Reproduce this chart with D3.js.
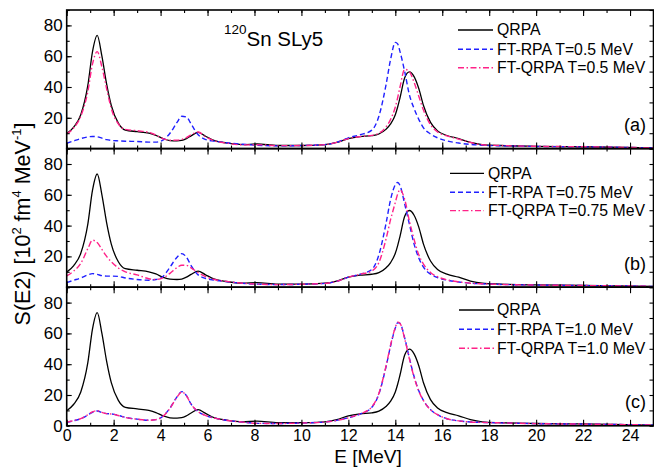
<!DOCTYPE html>
<html>
<head>
<meta charset="utf-8">
<script src="https://cdn.jsdelivr.net/npm/d3@7"></script>
<style>
  html, body { margin: 0; padding: 0; background: #fff; }
  svg { display: block; font-family: "Liberation Sans", Arial, sans-serif; }
</style>
</head>
<body>
<svg id="chart" width="654" height="468"></svg>
<script>
// Excitation energy grid (MeV), shared by every strength function
const energy = [0, 0.3, 0.6, 0.9, 1.1, 1.3, 1.5, 1.7, 1.9, 2.2, 2.5, 3.0, 3.5, 3.8, 4.1, 4.4, 4.7, 4.9, 5.1, 5.3,
  5.6, 5.9, 6.3, 6.8, 7.5, 8.1, 9.0, 10.0, 11.0, 11.5, 12.0, 12.5, 13.0, 13.3, 13.6, 13.8, 14.0, 14.1, 14.2, 14.4,
  14.6, 14.8, 15.0, 15.2, 15.5, 15.8, 16.2, 16.7, 17.2, 17.7, 18.5, 20, 22, 25];

// S(E2) in 10^2 fm^4 MeV^-1
const sQRPA = [9.8, 14, 22, 41, 63, 73.5, 60, 42, 28, 16.5, 12, 11, 10, 8.6, 6.5, 5.2, 5.0, 5.3, 6.5, 8.3,
  10.5, 8.2, 5.2, 3.7, 2.6, 3.0, 2.0, 2.0, 2.6, 4.0, 6.5, 7.8, 8.4, 9.5, 12.5, 16, 22, 27, 33, 46,
  49.8, 46.7, 39, 28, 17, 11.5, 8.5, 6.5, 4.0, 2.6, 2.0, 1.5, 1.2, 0.5];

const sFtRpa05 = [3.5, 5, 6.5, 7.6, 7.9, 7.7, 6.8, 5.8, 5.3, 5.0, 4.8, 4.6, 4.2, 4.2, 5.5, 10, 17, 21, 20.5, 16,
  9, 6, 4.8, 3.8, 2.8, 2.2, 1.8, 2.0, 2.6, 4.0, 7.0, 9.0, 12, 21, 41, 58, 69, 68, 63, 50,
  35, 26, 19, 13.5, 9.5, 7, 5, 3.6, 2.7, 2.2, 1.8, 1.4, 1.1, 0.5];
const sFtQrpa05 = [9.5, 13.5, 21, 37, 55, 63, 53, 39, 26, 16, 12.5, 11.6, 10.6, 8.8, 6.5, 5.4, 5.5, 6, 7.2, 9,
  10.8, 7.8, 5, 3.6, 2.4, 2.5, 1.9, 2.0, 2.6, 4.0, 6.5, 7.8, 8.6, 10, 14, 19, 27, 33, 40, 51.5,
  50, 43, 34, 25, 15.5, 10.8, 8.3, 6.2, 4.0, 2.5, 2.0, 1.5, 1.2, 0.5];

const sFtRpa075 = [3.0, 4.5, 6, 8, 8.8, 8.3, 7.5, 7.2, 7.2, 7.0, 6.0, 5.0, 4.5, 5.0, 7, 13, 19.5, 21.8, 19.5, 14,
  8, 5.8, 4.6, 3.6, 2.5, 2.0, 1.7, 1.9, 2.5, 3.8, 6.5, 8.4, 11.5, 21, 41, 57, 66.5, 68, 66, 54,
  41, 28, 19, 13, 8.5, 6.2, 4.6, 3.4, 2.6, 2.2, 1.8, 1.4, 1.1, 0.5];
const sFtQrpa075 = [7.3, 10.5, 15.5, 25, 30.5, 29, 24.5, 20, 16.5, 12.5, 10, 8, 5.5, 5.0, 6.0, 9, 12.8, 14.3, 14.2, 12.5,
  9.5, 7, 5, 3.8, 2.6, 2.0, 1.7, 1.9, 2.5, 3.8, 6.5, 8.4, 10.5, 16, 31, 44, 55, 60.5, 63.3, 57,
  43, 31, 21, 15, 9.5, 6.8, 4.8, 3.5, 2.6, 2.2, 1.8, 1.4, 1.1, 0.5];

const sFtRpa10 = [2.2, 3.3, 4.6, 7, 8.8, 9.6, 8.6, 7.9, 7.7, 6.8, 5.5, 4.3, 3.6, 4.0, 6.2, 11.5, 18.8, 22.2, 19.6, 14,
  9.2, 6.8, 5.0, 3.6, 2.4, 1.6, 1.5, 1.8, 2.5, 3.5, 5.2, 7.6, 12, 20.6, 38, 52, 63.5, 67, 66.5, 57,
  44, 32, 22.8, 16.5, 10.5, 7.2, 4.6, 3.2, 2.5, 2.2, 1.9, 1.4, 1.1, 0.5];
const sFtQrpa10 = [2.3, 3.4, 4.7, 7.2, 9.0, 9.8, 8.7, 7.9, 7.7, 6.7, 5.4, 4.3, 3.6, 4.0, 6.1, 11.3, 18.6, 22.0, 19.5, 14,
  9.2, 6.8, 5.0, 3.6, 2.4, 1.6, 1.5, 1.8, 2.5, 3.5, 5.2, 7.7, 12.3, 21, 38.5, 52.5, 63.8, 67.3, 66.5, 56.5,
  43.5, 31.5, 22.5, 16.3, 10.4, 7.2, 4.6, 3.2, 2.5, 2.2, 1.9, 1.4, 1.1, 0.5];

// Panel descriptors
const temperatures = ["0.5", "0.75", "1.0"];
const panelTags = ["(a)", "(b)", "(c)"];
const ftRpaByPanel = [sFtRpa05, sFtRpa075, sFtRpa10];
const ftQrpaByPanel = [sFtQrpa05, sFtQrpa075, sFtQrpa10];

// Tick values
const xMajorTicks = d3.range(0, 25, 2);
const xMinorTicks = d3.range(0, 26, 1);
const yMajorTicks = [20, 40, 60, 80];
const yMinorTicks = d3.range(0, 91, 10);

// ---- layout ----
const svg = d3.select("#chart");
const left = 66.7, right = 653.5;
const panelTop0 = 10, panelH = 138.6;
const colors = { qrpa: "#000000", rpa: "#2020ff", fqrpa: "#ff2288" };
const legendLayouts = [
  { x0: 458, x1: 493, tx: 497, rows: [20, 39.3, 57.7] },
  { x0: 450, x1: 484, tx: 488, rows: [24.7, 43.6, 62.0] },
  { x0: 459, x1: 494, tx: 497, rows: [22.8, 42.0, 61.0] }
];

const x = d3.scaleLinear().domain([0, 25]).range([left, right]);

function styleSeries(sel, kind) {
  if (kind === "qrpa") sel.attr("stroke", colors.qrpa).attr("stroke-width", 1.3);
  if (kind === "rpa") sel.attr("stroke", colors.rpa).attr("stroke-width", 1.4).attr("stroke-dasharray", "5,3");
  if (kind === "fqrpa") sel.attr("stroke", colors.fqrpa).attr("stroke-width", 1.4).attr("stroke-dasharray", "6,2.5,1.5,2.5");
}

temperatures.forEach((T, i) => {
  const top = panelTop0 + i * panelH;
  const bottom = top + panelH;
  const y = d3.scaleLinear().domain([0, 90]).range([bottom, top]);
  const g = svg.append("g");

  const clipId = "clip" + i;
  svg.append("clipPath").attr("id", clipId)
    .append("rect").attr("x", left).attr("y", top).attr("width", right - left).attr("height", panelH);

  const line = d3.line()
    .x((d, k) => x(energy[k]))
    .y(d => y(d))
    .curve(d3.curveMonotoneX);

  const curves = g.append("g").attr("clip-path", `url(#${clipId})`).attr("fill", "none");
  const series = [
    { kind: "qrpa", values: sQRPA },
    { kind: "rpa", values: ftRpaByPanel[i] },
    { kind: "fqrpa", values: ftQrpaByPanel[i] }
  ];
  series.forEach(s => {
    curves.append("path").attr("d", line(s.values)).call(styleSeries, s.kind)
      .attr("stroke-linejoin", "round");
  });

  // inward ticks on all four sides
  const tickG = g.append("g").attr("class", "ticks");
  const addAxis = (axis, tx, ty) => {
    const a = tickG.append("g").attr("transform", `translate(${tx},${ty})`).call(axis);
    a.select(".domain").remove();
    a.selectAll("line").attr("stroke", "#000").attr("stroke-width", 1.1);
  };
  addAxis(d3.axisTop(x).tickValues(xMinorTicks).tickSize(3).tickFormat(""), 0, bottom);
  addAxis(d3.axisTop(x).tickValues(xMajorTicks).tickSize(6).tickFormat(""), 0, bottom);
  addAxis(d3.axisBottom(x).tickValues(xMinorTicks).tickSize(3).tickFormat(""), 0, top);
  addAxis(d3.axisBottom(x).tickValues(xMajorTicks).tickSize(6).tickFormat(""), 0, top);
  addAxis(d3.axisRight(y).tickValues(yMinorTicks).tickSize(3).tickFormat(""), left, 0);
  addAxis(d3.axisRight(y).tickValues(yMajorTicks).tickSize(5).tickFormat(""), left, 0);
  addAxis(d3.axisLeft(y).tickValues(yMinorTicks).tickSize(4).tickFormat(""), right, 0);

  // y tick labels
  const yLab = g.append("g").attr("transform", `translate(${left},0)`)
    .call(d3.axisLeft(y).tickValues(i === 2 ? [0].concat(yMajorTicks) : yMajorTicks).tickSize(0).tickPadding(4));
  yLab.select(".domain").remove();
  yLab.selectAll("text").attr("font-size", 17).attr("font-family", "Liberation Sans, Arial, sans-serif").attr("fill", "#000");

  // frame
  g.append("rect").attr("x", left).attr("y", top).attr("width", right - left).attr("height", panelH)
    .attr("fill", "none").attr("stroke", "#000").attr("stroke-width", 1.6);

  // legend
  const L = legendLayouts[i];
  const labels = ["QRPA", `FT-RPA T=${T} MeV`, `FT-QRPA T=${T} MeV`];
  series.forEach((s, k) => {
    const ry = top + L.rows[k];
    g.append("line").attr("x1", L.x0).attr("x2", L.x1).attr("y1", ry).attr("y2", ry)
      .call(styleSeries, s.kind);
    g.append("text").attr("x", L.tx).attr("y", ry + 5.3).attr("font-size", 15.8).attr("fill", "#000")
      .text(labels[k]);
  });

  // panel tag
  g.append("text").attr("x", 646).attr("y", top + 121).attr("text-anchor", "end")
    .attr("font-size", 18).attr("fill", "#000").text(panelTags[i]);

  // x tick labels under the last panel
  if (i === 2) {
    const xLab = g.append("g").attr("transform", `translate(0,${bottom})`)
      .call(d3.axisBottom(x).tickValues(xMajorTicks).tickSize(0).tickPadding(4));
    xLab.select(".domain").remove();
    xLab.selectAll("text").attr("font-size", 16).attr("font-family", "Liberation Sans, Arial, sans-serif").attr("fill", "#000");
  }
});

// title in the top panel
const title = svg.append("text").attr("x", 224).attr("y", 45.7).attr("font-size", 20.5).attr("fill", "#000");
title.append("tspan").attr("font-size", 13.5).attr("dy", -12).text("120");
title.append("tspan").attr("dy", 12).text("Sn SLy5");

// axis titles
svg.append("text").attr("x", 368).attr("y", 463).attr("text-anchor", "middle")
  .attr("font-size", 19).attr("fill", "#000").text("E [MeV]");

const yTitle = svg.append("text")
  .attr("transform", "translate(30,224) rotate(-90)")
  .attr("text-anchor", "middle").attr("font-size", 21.5).attr("fill", "#000");
yTitle.append("tspan").text("S(E2) [10");
yTitle.append("tspan").attr("font-size", 13).attr("dy", -9).text("2");
yTitle.append("tspan").attr("dy", 9).text(" fm");
yTitle.append("tspan").attr("font-size", 13).attr("dy", -9).text("4");
yTitle.append("tspan").attr("dy", 9).text(" MeV");
yTitle.append("tspan").attr("font-size", 13).attr("dy", -9).text("-1");
yTitle.append("tspan").attr("dy", 9).text("]");
</script>
</body>
</html>
